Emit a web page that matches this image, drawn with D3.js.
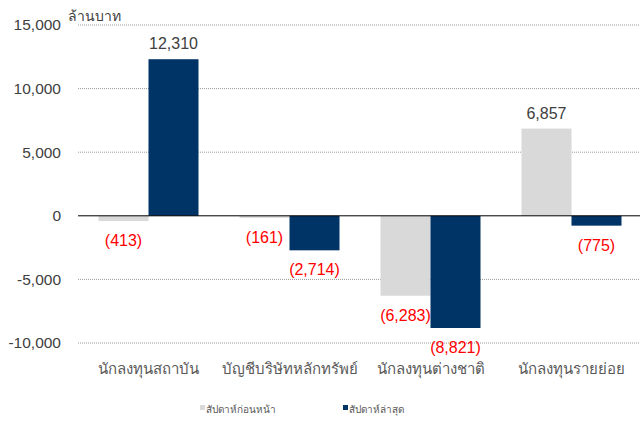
<!DOCTYPE html>
<html>
<head>
<meta charset="utf-8">
<script src="https://cdn.jsdelivr.net/npm/d3@7"></script>
<style>
  body { margin: 0; background: #fff; }
  text { font-family: "Liberation Sans", Arial, sans-serif; }
</style>
</head>
<body>
<div class="chart"></div>
<script>
// data
var categories = ["นักลงทุนสถาบัน", "บัญชีบริษัทหลักทรัพย์", "นักลงทุนต่างชาติ", "นักลงทุนรายย่อย"];
var seriesNames = ["สัปดาห์ก่อนหน้า", "สัปดาห์ล่าสุด"];
var prevWeek = [-413, -161, -6283, 6857];
var lastWeek = [12310, -2714, -8821, -775];
var yTicks = [-10000, -5000, 0, 5000, 10000, 15000];
var unitLabel = "ล้านบาท";

var w = 640, h = 423;
var colors = ["#d9d9d9", "#003366"];
var fmt = d3.format(",");

var svg = d3.select(".chart")
    .append("svg")
    .attr("width", w)
    .attr("height", h);

// scales
var x = d3.scaleBand().domain(categories).range([78, 642]).paddingInner(0).paddingOuter(0);
var x1 = d3.scaleBand().domain([0, 1]).range([20.5, x.bandwidth() - 20.5]);
var y = d3.scaleLinear().domain([-10000, 15000]).range([343, 25]);

// grid lines (dotted), zero line solid
svg.append("g").selectAll("line")
    .data(yTicks.filter(function (d) { return d !== 0; }))
    .enter()
    .append("line")
    .attr("x1", 78).attr("x2", 640)
    .attr("y1", function (d) { return y(d); })
    .attr("y2", function (d) { return y(d); })
    .attr("stroke", "#9a9a9a")
    .attr("stroke-width", 1)
    .attr("stroke-dasharray", "1,1");

// y axis labels (plain hyphen for minus, like the original)
var yAxis = d3.axisLeft(y).tickValues(yTicks).tickSize(0).tickPadding(0)
    .tickFormat(function (d) { return fmt(d).replace("\u2212", "-"); });
var gy = svg.append("g").attr("transform", "translate(61,0)").call(yAxis);
gy.select(".domain").remove();
gy.selectAll("text")
    .attr("fill", "#404040")
    .style("font-size", "15.5px")
    .style("font-family", "'Liberation Sans', Arial, sans-serif");

// unit label
svg.append("text")
    .attr("x", 68).attr("y", 21)
    .attr("fill", "#404040")
    .style("font-size", "14px")
    .text(unitLabel);

// bars
var series = [prevWeek, lastWeek];
series.forEach(function (vals, s) {
    svg.append("g").selectAll("rect")
        .data(vals)
        .enter()
        .append("rect")
        .attr("x", function (d, i) { return x(categories[i]) + x1(s); })
        .attr("y", function (d) { return y(Math.max(0, d)); })
        .attr("width", x1.bandwidth())
        .attr("height", function (d) { return Math.abs(y(d) - y(0)); })
        .attr("fill", colors[s]);

    // value labels
    svg.append("g").selectAll("text")
        .data(vals)
        .enter()
        .append("text")
        .attr("x", function (d, i) { return x(categories[i]) + x1(s) + x1.bandwidth() / 2; })
        .attr("y", function (d) { return d >= 0 ? y(d) - 10 : y(d) + 25; })
        .attr("text-anchor", "middle")
        .attr("fill", function (d) { return d >= 0 ? "#404040" : "#ff0000"; })
        .style("font-size", "16px")
        .text(function (d) {
            return d >= 0 ? fmt(d) : "(" + fmt(-d) + ")";
        });
});

// zero line
svg.append("line")
    .attr("x1", 78).attr("x2", 640)
    .attr("y1", y(0)).attr("y2", y(0))
    .attr("stroke", "#000")
    .attr("stroke-width", 1);

// category labels
svg.append("g").selectAll("text")
    .data(categories)
    .enter()
    .append("text")
    .attr("x", function (d) { return x(d) + x.bandwidth() / 2; })
    .attr("y", 374)
    .attr("text-anchor", "middle")
    .attr("fill", "#595959")
    .style("font-size", "15px")
    .text(function (d) { return d; });

// legend
var legendX = [200, 343];
seriesNames.forEach(function (name, s) {
    svg.append("rect")
        .attr("x", legendX[s]).attr("y", 405)
        .attr("width", 5).attr("height", 5)
        .attr("fill", colors[s]);
    svg.append("text")
        .attr("x", legendX[s] + 6).attr("y", 413)
        .attr("fill", "#595959")
        .style("font-size", "10px")
        .text(name);
});
</script>
</body>
</html>
